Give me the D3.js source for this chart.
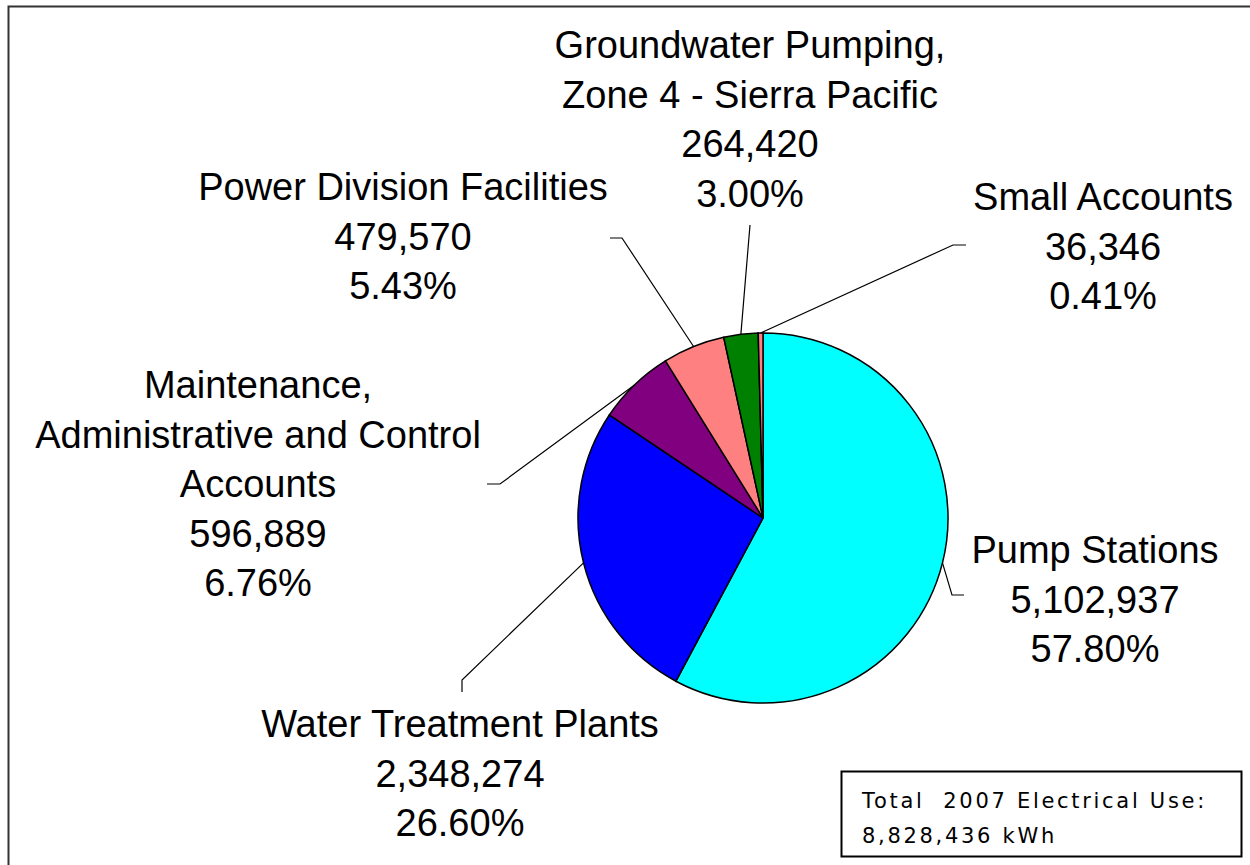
<!DOCTYPE html>
<html>
<head>
<meta charset="utf-8">
<script src="https://cdn.jsdelivr.net/npm/d3@7"></script>
<style>
  html, body { margin: 0; padding: 0; background: #fff; }
  svg { display: block; }
  .lbl { font-family: "Liberation Sans", Arial, sans-serif; font-size: 38px; fill: #000; }
  .note { font-family: "DejaVu Sans", Verdana, sans-serif; font-size: 21px; letter-spacing: 2.7px; fill: #000; }
</style>
</head>
<body>
<svg id="chart" width="1250" height="865"></svg>
<script>
// 2007 electrical use by account group (kWh)
const categories = [
    'Pump Stations',
    'Water Treatment Plants',
    'Maintenance, Administrative and Control Accounts',
    'Power Division Facilities',
    'Groundwater Pumping, Zone 4 - Sierra Pacific',
    'Small Accounts'
];
const values = [5102937, 2348274, 596889, 479570, 264420, 36346];
const percents = ['57.80%', '26.60%', '6.76%', '5.43%', '3.00%', '0.41%'];
const colors = ['#00ffff', '#0000ff', '#800080', '#ff8080', '#008000', '#ff8080'];
// how each label is broken into lines
const labelLines = [
    ['Pump Stations'],
    ['Water Treatment Plants'],
    ['Maintenance,', 'Administrative and Control', 'Accounts'],
    ['Power Division Facilities'],
    ['Groundwater Pumping,', 'Zone 4 - Sierra Pacific'],
    ['Small Accounts']
];
const totalText = ['Total  2007 Electrical Use:', '8,828,436 kWh'];

// layout: label centre / first baseline, and leader line elbow + end
const layout = [
    { x: 1095, y: 563, elbow: [952, 595], end: [964, 595] },
    { x: 460,  y: 737, elbow: [462, 680], end: [462, 692] },
    { x: 258,  y: 398, elbow: [500, 484], end: [487, 484] },
    { x: 403,  y: 200, elbow: [622, 238], end: [610, 238] },
    { x: 750,  y: 58,  elbow: [750, 225], end: [750, 225] },
    { x: 1103, y: 210, elbow: [953, 245], end: [966, 245] }
];

const cx = 763, cy = 518, radius = 185, lineGap = 49.5;
const fmt = d3.format(',');

const svg = d3.select('#chart');

// outer frame (runs past the right and bottom edges)
svg.append('rect')
    .attr('x', 8.5).attr('y', 6.5)
    .attr('width', 1260).attr('height', 880)
    .attr('fill', 'none')
    .attr('stroke', '#333')
    .attr('stroke-width', 2);

const data = values.map((v, i) => ({ name: categories[i], value: v, i }));

const pie = d3.pie().sort(null).value(d => d.value).startAngle(0).endAngle(2 * Math.PI);
const arc = d3.arc().innerRadius(0).outerRadius(radius);
const arcs = pie(data);

const g = svg.append('g').attr('transform', `translate(${cx},${cy})`);

g.selectAll('path.slice')
    .data(arcs)
    .enter()
    .append('path')
    .attr('class', 'slice')
    .attr('d', arc)
    .attr('fill', d => colors[d.data.i])
    .attr('stroke', '#000')
    .attr('stroke-width', 1.5);

// leader lines from the slice's mid angle on the rim
arcs.forEach(d => {
    const a = (d.startAngle + d.endAngle) / 2;
    const sx = cx + radius * Math.sin(a);
    const sy = cy - radius * Math.cos(a);
    const L = layout[d.data.i];
    svg.append('polyline')
        .attr('points', [[sx, sy], L.elbow, L.end].map(p => p.join(',')).join(' '))
        .attr('fill', 'none')
        .attr('stroke', '#000')
        .attr('stroke-width', 1.2);
});

// labels
data.forEach(d => {
    const L = layout[d.i];
    const lines = labelLines[d.i].concat([fmt(d.value), percents[d.i]]);
    const t = svg.append('text')
        .attr('class', 'lbl')
        .attr('text-anchor', 'middle');
    lines.forEach((s, k) => {
        t.append('tspan')
            .attr('x', L.x)
            .attr('y', L.y + k * lineGap)
            .text(s);
    });
});

// total box
svg.append('rect')
    .attr('x', 841.5).attr('y', 771.5)
    .attr('width', 400).attr('height', 85)
    .attr('fill', '#fff')
    .attr('stroke', '#000')
    .attr('stroke-width', 2);

totalText.forEach((s, k) => {
    svg.append('text')
        .attr('class', 'note')
        .attr('x', 862)
        .attr('y', 808 + k * 35)
        .style('white-space', 'pre')
        .text(s);
});
</script>
</body>
</html>
